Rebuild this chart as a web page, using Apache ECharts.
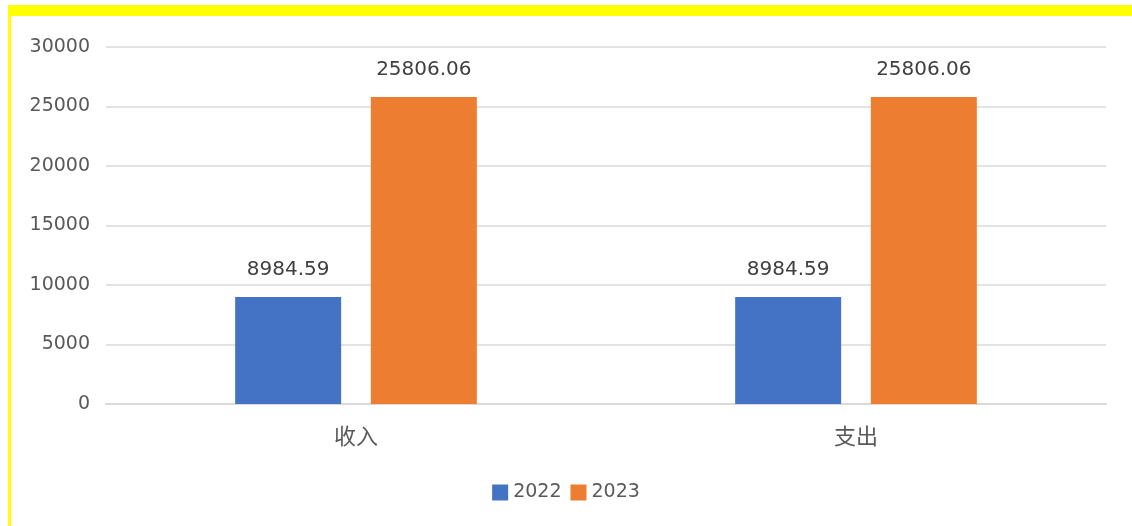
<!DOCTYPE html>
<html>
<head>
<meta charset="utf-8">
<script src="https://cdn.jsdelivr.net/npm/echarts@6/dist/echarts.min.js"></script>
<style>
html,body{margin:0;padding:0;background:#fff;}
#c{width:1132px;height:526px;}
</style>
</head>
<body>
<div id="c"></div>
<script>
const categories = ['收入', '支出'];
const seriesNames = ['2022', '2023'];
const values2022 = [8984.59, 8984.59];
const values2023 = [25806.06, 25806.06];
const yTicks = { min: 0, max: 30000, interval: 5000 };

const chart = echarts.init(document.getElementById('c'));
const labelStyle = {
  show: true, position: 'top', distance: 17,
  fontFamily: 'DejaVu Sans', fontSize: 20, color: '#404040',
  formatter: p => p.value.toFixed(2)
};
chart.setOption({
  animation: false,
  graphic: [
    { type: 'rect', shape: { x: 8, y: 5, width: 1124, height: 11 }, style: { fill: '#ffff00' }, z: 100 },
    { type: 'rect', shape: { x: 8, y: 5, width: 3, height: 521 }, style: { fill: '#ffff00' }, z: 100 }
  ],
  legend: {
    data: seriesNames,
    bottom: 19,
    left: 'center',
    icon: 'rect',
    itemWidth: 16, itemHeight: 16, itemGap: 9,
    textStyle: { fontFamily: 'DejaVu Sans', fontSize: 19, color: '#595959' }
  },
  grid: { left: 106, right: 26, top: 47, bottom: 122 },
  xAxis: {
    type: 'category',
    data: categories,
    axisLine: { lineStyle: { color: '#d9d9d9', width: 2 } },
    axisTick: { show: false },
    axisLabel: { fontFamily: 'Noto Sans CJK SC', fontSize: 22, color: '#595959', margin: 21 }
  },
  yAxis: {
    type: 'value',
    min: yTicks.min, max: yTicks.max, interval: yTicks.interval,
    axisLine: { show: false },
    axisTick: { show: false },
    splitLine: { lineStyle: { color: '#e3e3e3', width: 2 } },
    axisLabel: { fontFamily: 'DejaVu Sans', fontSize: 19, color: '#595959', margin: 16,
      formatter: v => String(v) }
  },
  series: [
    { name: seriesNames[0], type: 'bar', data: values2022, barWidth: 106, barGap: '28%',
      itemStyle: { color: '#4472c4' }, label: labelStyle },
    { name: seriesNames[1], type: 'bar', data: values2023, barWidth: 106, barGap: '28%',
      itemStyle: { color: '#ed7d31' }, label: labelStyle }
  ]
});
</script>
</body>
</html>
